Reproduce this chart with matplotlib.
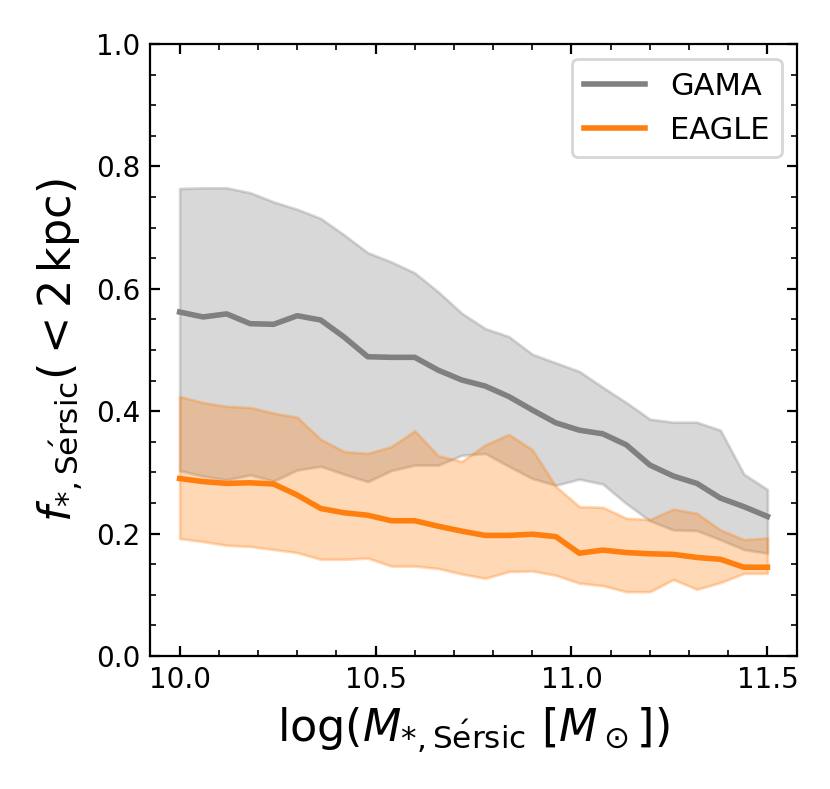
import numpy as np
import matplotlib
matplotlib.use('Agg')
import matplotlib.pyplot as plt
from matplotlib.ticker import MultipleLocator

# stellar mass bins
logm = [10.00, 10.06, 10.12, 10.18, 10.24, 10.30, 10.36, 10.42, 10.48, 10.54,
        10.60, 10.66, 10.72, 10.78, 10.84, 10.90, 10.96, 11.02, 11.08, 11.14,
        11.20, 11.26, 11.32, 11.38, 11.44, 11.50]

# GAMA median + 16/84 percentiles
gama_med = [0.562, 0.554, 0.559, 0.543, 0.542, 0.556, 0.549, 0.521, 0.489, 0.488,
            0.488, 0.467, 0.451, 0.441, 0.424, 0.402, 0.381, 0.369, 0.363, 0.345,
            0.312, 0.294, 0.282, 0.258, 0.244, 0.228]
gama_hi = [0.764, 0.765, 0.765, 0.757, 0.742, 0.730, 0.715, 0.688, 0.659, 0.644,
           0.626, 0.595, 0.560, 0.535, 0.522, 0.493, 0.479, 0.465, 0.439, 0.414,
           0.387, 0.382, 0.382, 0.369, 0.297, 0.272]
gama_lo = [0.303, 0.294, 0.288, 0.296, 0.286, 0.304, 0.310, 0.297, 0.285, 0.303,
           0.312, 0.312, 0.328, 0.331, 0.310, 0.290, 0.279, 0.289, 0.281, 0.249,
           0.221, 0.206, 0.205, 0.190, 0.174, 0.168]

# EAGLE median + 16/84 percentiles
eagle_med = [0.290, 0.285, 0.282, 0.283, 0.281, 0.263, 0.241, 0.234, 0.230, 0.221,
             0.221, 0.212, 0.204, 0.197, 0.197, 0.199, 0.195, 0.168, 0.173, 0.169,
             0.167, 0.166, 0.161, 0.158, 0.145, 0.145]
eagle_hi = [0.424, 0.414, 0.408, 0.406, 0.397, 0.390, 0.354, 0.334, 0.331, 0.342,
            0.368, 0.327, 0.318, 0.345, 0.362, 0.337, 0.277, 0.244, 0.243, 0.225,
            0.223, 0.240, 0.233, 0.206, 0.190, 0.193]
eagle_lo = [0.192, 0.187, 0.181, 0.179, 0.174, 0.169, 0.158, 0.158, 0.160, 0.147,
            0.147, 0.143, 0.134, 0.127, 0.138, 0.139, 0.132, 0.119, 0.115, 0.105,
            0.105, 0.125, 0.109, 0.120, 0.135, 0.135]

fig = plt.figure(figsize=(4.15, 3.945), dpi=200)
ax = fig.add_axes([0.181, 0.1686, 0.779, 0.7756])

ax.fill_between(logm, gama_lo, gama_hi, color='grey', alpha=0.3)
ax.plot(logm, gama_med, color='grey', lw=2, label='GAMA')
ax.fill_between(logm, eagle_lo, eagle_hi, color='C1', alpha=0.3)
ax.plot(logm, eagle_med, color='C1', lw=2, label='EAGLE')

ax.set_ylim(0, 1)
ax.xaxis.set_major_locator(MultipleLocator(0.5))
ax.xaxis.set_minor_locator(MultipleLocator(0.1))
ax.yaxis.set_major_locator(MultipleLocator(0.2))
ax.yaxis.set_minor_locator(MultipleLocator(0.05))
ax.tick_params(which='both', direction='in', top=True, right=True, labelsize=10)
ax.set_xlabel(r'$\log(M_{*,\mathrm{S\acute{e}rsic}}\ [M_\odot])$', fontsize=16)
ax.set_ylabel(r'$f_{*,\mathrm{S\acute{e}rsic}}(<2\,\mathrm{kpc})$', fontsize=16)
ax.legend(loc='upper right', fontsize=11)

fig.savefig('out.png', dpi=200)
